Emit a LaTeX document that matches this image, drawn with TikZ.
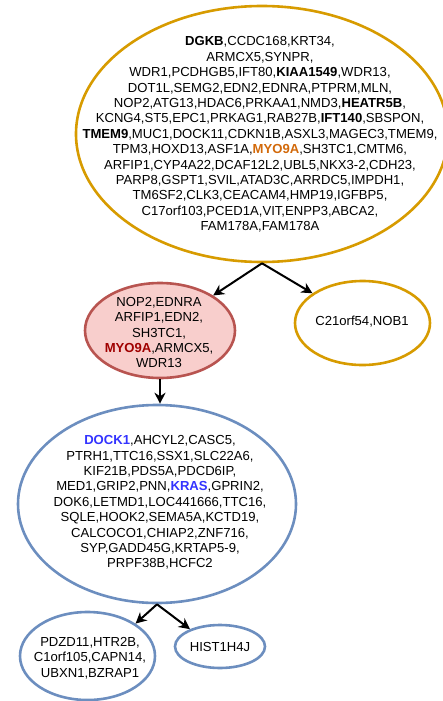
\documentclass[tikz,border=0pt]{standalone}
\usepackage{fontspec}
\setmainfont{Liberation Sans}
\usetikzlibrary{shapes.geometric,arrows.meta}
\definecolor{ornline}{HTML}{D79B00}
\definecolor{orntext}{HTML}{D2690A}
\definecolor{pinkfill}{HTML}{F8CECC}
\definecolor{pinkline}{HTML}{B85450}
\definecolor{redtext}{HTML}{A00000}
\definecolor{blueline}{HTML}{6C8EBF}
\definecolor{bluetext}{HTML}{3333FF}
\begin{document}
\begin{tikzpicture}[x=1pt,y=1pt,
  ell/.style={ellipse, draw, line width=2.6pt, inner sep=0pt},
  txt/.style={align=center, font=\fontsize{13.1}{15.4}\selectfont, inner sep=0pt},
  arr/.style={-{Stealth[length=11pt,width=11pt]}, line width=2pt, black}]
\useasboundingbox (0,0) rectangle (443,-701);

% ellipses
\node[ell, draw=ornline, minimum width=372pt, minimum height=256pt] (top) at (262,-134) {};
\node[ell, draw=pinkline, fill=pinkfill, minimum width=150pt, minimum height=95pt] (pink) at (160,-330.5) {};
\node[ell, draw=ornline, minimum width=135pt, minimum height=84pt] (c21) at (362.5,-323) {};
\node[ell, draw=blueline, minimum width=278pt, minimum height=198pt] (blue) at (157,-504) {};
\node[ell, draw=blueline, minimum width=135pt, minimum height=88pt] (bl) at (87.5,-656) {};
\node[ell, draw=blueline, minimum width=90pt, minimum height=43pt] (hist) at (220,-646.5) {};

% texts
\node[txt] (toptxt) at (260,-134.5) {\textbf{DGKB},CCDC168,KRT34,\\
ARMCX5,SYNPR,\\
WDR1,PCDHGB5,IFT80,\textbf{KIAA1549},WDR13,\\
DOT1L,SEMG2,EDN2,EDNRA,PTPRM,MLN,\\
NOP2,ATG13,HDAC6,PRKAA1,NMD3,\textbf{HEATR5B},\\
KCNG4,ST5,EPC1,PRKAG1,RAB27B,\textbf{IFT140},SBSPON,\\
\textbf{TMEM9},MUC1,DOCK11,CDKN1B,ASXL3,MAGEC3,TMEM9,\\
TPM3,HOXD13,ASF1A,\textbf{\color{orntext}MYO9A},SH3TC1,CMTM6,\\
ARFIP1,CYP4A22,DCAF12L2,UBL5,NKX3-2,CDH23,\\
PARP8,GSPT1,SVIL,ATAD3C,ARRDC5,IMPDH1,\\
TM6SF2,CLK3,CEACAM4,HMP19,IGFBP5,\\
C17orf103,PCED1A,VIT,ENPP3,ABCA2,\\
FAM178A,FAM178A};
\node[txt] (pinktxt) at (159,-332.5) {NOP2,EDNRA\\ARFIP1,EDN2,\\SH3TC1,\\\textbf{\color{redtext}MYO9A},ARMCX5,\\WDR13};
\node[txt] (c21txt) at (362,-322) {C21orf54,NOB1};
\node[txt] (bluetxt) at (160,-502.5) {\textbf{\color{bluetext}DOCK1},AHCYL2,CASC5,\\
PTRH1,TTC16,SSX1,SLC22A6,\\
KIF21B,PDS5A,PDCD6IP,\\
MED1,GRIP2,PNN,\textbf{\color{bluetext}KRAS},GPRIN2,\\
DOK6,LETMD1,LOC441666,TTC16,\\
SQLE,HOOK2,SEMA5A,KCTD19,\\
CALCOCO1,CHIAP2,ZNF716,\\
SYP,GADD45G,KRTAP5-9,\\
PRPF38B,HCFC2};
\node[txt] (bltxt) at (90,-658) {PDZD11,HTR2B,\\C1orf105,CAPN14,\\UBXN1,BZRAP1};
\node[txt] (histtxt) at (220,-647) {HIST1H4J};

% connectors
\draw[arr] (top.south) -- (pink);
\draw[arr] (top.south) -- (c21);
\draw[arr] (pink.south) -- (pink.south |- blue.north);
\draw[arr] (blue.south) -- (bl.34);
\draw[arr] (blue.south) -- (hist.150);
\end{tikzpicture}
\end{document}
